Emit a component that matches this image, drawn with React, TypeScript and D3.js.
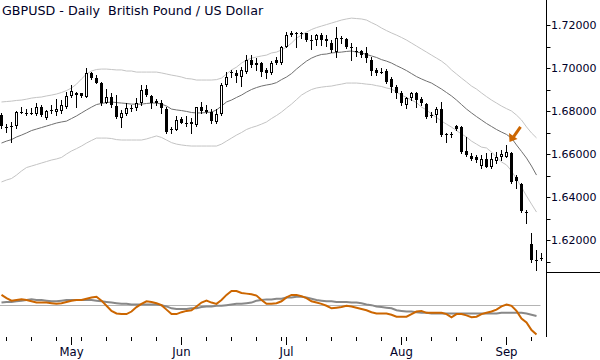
import React, { useEffect, useRef } from 'react';
import * as d3 from 'd3';

// GBPUSD daily bars, 11 Apr - 10 Sep 2014
const opens = [
  1.6781, 1.6726, 1.6726, 1.6730, 1.6797, 1.6792, 1.6791, 1.6786, 1.6820, 1.6769,
  1.6805, 1.6795, 1.6802, 1.6820, 1.6870, 1.6885, 1.6882, 1.6866, 1.6975, 1.6952,
  1.6931, 1.6839, 1.6866, 1.6823, 1.6766, 1.6784, 1.6812, 1.6812, 1.6836, 1.6901,
  1.6870, 1.6848, 1.6839, 1.6808, 1.6716, 1.6712, 1.6761, 1.6745, 1.6750, 1.6735,
  1.6817, 1.6805, 1.6797, 1.6750, 1.6784, 1.6921, 1.6983, 1.6978, 1.6957, 1.6983,
  1.7037, 1.7024, 1.7024, 1.6991, 1.6975, 1.7037, 1.7022, 1.7099, 1.7153, 1.7161,
  1.7159, 1.7161, 1.7130, 1.7130, 1.7153, 1.7137, 1.7117, 1.7076, 1.7138, 1.7133,
  1.7099, 1.7079, 1.7080, 1.7068, 1.7037, 1.6991, 1.6983, 1.6987, 1.6947, 1.6910,
  1.6885, 1.6828, 1.6859, 1.6885, 1.6854, 1.6832, 1.6781, 1.6781, 1.6808, 1.6693,
  1.6693, 1.6730, 1.6727, 1.6615, 1.6591, 1.6585, 1.6544, 1.6575, 1.6538, 1.6569,
  1.6585, 1.6587, 1.6606, 1.6494, 1.6460, 1.6332, 1.6181, 1.6107, 1.6115,
];
const highs = [
  1.6791, 1.6740, 1.6750, 1.6802, 1.6820, 1.6808, 1.6812, 1.6836, 1.6828, 1.6805,
  1.6828, 1.6856, 1.6851, 1.6890, 1.6921, 1.6890, 1.6885, 1.6998, 1.6983, 1.6967,
  1.6936, 1.6902, 1.6882, 1.6874, 1.6805, 1.6836, 1.6828, 1.6859, 1.6921, 1.6921,
  1.6874, 1.6854, 1.6851, 1.6820, 1.6727, 1.6777, 1.6771, 1.6777, 1.6766, 1.6820,
  1.6843, 1.6828, 1.6808, 1.6808, 1.6929, 1.6983, 1.6991, 1.6991, 1.7006, 1.7060,
  1.7060, 1.7045, 1.7029, 1.6998, 1.7034, 1.7050, 1.7102, 1.7169, 1.7173, 1.7169,
  1.7169, 1.7164, 1.7153, 1.7158, 1.7161, 1.7153, 1.7130, 1.7192, 1.7149, 1.7138,
  1.7115, 1.7099, 1.7084, 1.7099, 1.7052, 1.6998, 1.6998, 1.6994, 1.6957, 1.6921,
  1.6894, 1.6866, 1.6890, 1.6890, 1.6866, 1.6836, 1.6797, 1.6820, 1.6843, 1.6699,
  1.6704, 1.6735, 1.6730, 1.6680, 1.6603, 1.6595, 1.6595, 1.6603, 1.6603, 1.6611,
  1.6619, 1.6642, 1.6611, 1.6502, 1.6466, 1.6340, 1.6231, 1.6154, 1.6138,
];
const lows = [
  1.6721, 1.6702, 1.6657, 1.6721, 1.6789, 1.6781, 1.6786, 1.6781, 1.6777, 1.6761,
  1.6789, 1.6781, 1.6789, 1.6812, 1.6866, 1.6820, 1.6866, 1.6864, 1.6950, 1.6929,
  1.6828, 1.6836, 1.6820, 1.6766, 1.6727, 1.6781, 1.6802, 1.6805, 1.6828, 1.6870,
  1.6812, 1.6828, 1.6789, 1.6699, 1.6699, 1.6710, 1.6743, 1.6730, 1.6699, 1.6730,
  1.6789, 1.6789, 1.6743, 1.6743, 1.6781, 1.6916, 1.6959, 1.6936, 1.6916, 1.6978,
  1.7006, 1.6991, 1.6963, 1.6952, 1.6972, 1.7018, 1.7018, 1.7096, 1.7149, 1.7099,
  1.7138, 1.7127, 1.7087, 1.7107, 1.7107, 1.7102, 1.7076, 1.7052, 1.7115, 1.7091,
  1.7037, 1.7056, 1.7052, 1.7029, 1.6967, 1.6967, 1.6975, 1.6931, 1.6890, 1.6859,
  1.6828, 1.6812, 1.6851, 1.6820, 1.6828, 1.6766, 1.6773, 1.6750, 1.6684, 1.6657,
  1.6680, 1.6710, 1.6606, 1.6593, 1.6572, 1.6564, 1.6533, 1.6539, 1.6533, 1.6559,
  1.6572, 1.6585, 1.6466, 1.6440, 1.6332, 1.6280, 1.6099, 1.6061, 1.6107,
];
const closes = [
  1.6730, 1.6723, 1.6729, 1.6797, 1.6795, 1.6790, 1.6793, 1.6820, 1.6781, 1.6802,
  1.6803, 1.6809, 1.6828, 1.6870, 1.6893, 1.6874, 1.6870, 1.6975, 1.6952, 1.6931,
  1.6836, 1.6866, 1.6828, 1.6771, 1.6789, 1.6812, 1.6814, 1.6839, 1.6898, 1.6874,
  1.6836, 1.6836, 1.6812, 1.6704, 1.6714, 1.6758, 1.6745, 1.6743, 1.6740, 1.6817,
  1.6802, 1.6794, 1.6753, 1.6784, 1.6921, 1.6957, 1.6975, 1.6963, 1.6991, 1.7037,
  1.7014, 1.7014, 1.6983, 1.6975, 1.7022, 1.7024, 1.7099, 1.7153, 1.7164, 1.7159,
  1.7161, 1.7130, 1.7128, 1.7153, 1.7130, 1.7125, 1.7084, 1.7138, 1.7136, 1.7099,
  1.7097, 1.7077, 1.7060, 1.7045, 1.6987, 1.6975, 1.6981, 1.6936, 1.6910, 1.6882,
  1.6836, 1.6859, 1.6885, 1.6851, 1.6836, 1.6771, 1.6779, 1.6808, 1.6688, 1.6691,
  1.6691, 1.6716, 1.6611, 1.6595, 1.6575, 1.6572, 1.6575, 1.6541, 1.6575, 1.6585,
  1.6600, 1.6611, 1.6471, 1.6476, 1.6336, 1.6330, 1.6107, 1.6105, 1.6113,
];

// Bollinger bands (drawn up to the bar before the last one)
const upperBand = [
  1.6842, 1.6844, 1.6846, 1.6849, 1.6851, 1.6855, 1.6860, 1.6863, 1.6865, 1.6870,
  1.6874, 1.6879, 1.6886, 1.6895, 1.6907, 1.6925, 1.6949, 1.6972, 1.6986, 1.6993,
  1.6995, 1.6995, 1.6993, 1.6991, 1.6991, 1.6986, 1.6986, 1.6981, 1.6981, 1.6981,
  1.6981, 1.6981, 1.6977, 1.6972, 1.6967, 1.6963, 1.6958, 1.6951, 1.6949, 1.6944,
  1.6944, 1.6944, 1.6944, 1.6946, 1.6953, 1.6972, 1.6991, 1.7004, 1.7023, 1.7037,
  1.7046, 1.7051, 1.7056, 1.7060, 1.7070, 1.7074, 1.7084, 1.7097, 1.7116, 1.7139,
  1.7153, 1.7167, 1.7179, 1.7188, 1.7195, 1.7202, 1.7209, 1.7216, 1.7223, 1.7228,
  1.7232, 1.7230, 1.7228, 1.7223, 1.7211, 1.7200, 1.7186, 1.7174, 1.7163, 1.7153,
  1.7142, 1.7130, 1.7116, 1.7102, 1.7088, 1.7074, 1.7060, 1.7046, 1.7032, 1.7014,
  1.6991, 1.6972, 1.6953, 1.6935, 1.6916, 1.6902, 1.6884, 1.6867, 1.6851, 1.6837,
  1.6823, 1.6811, 1.6800, 1.6781, 1.6758, 1.6726, 1.6698, 1.6675,
];
const midBand = [
  1.6651, 1.6660, 1.6667, 1.6679, 1.6688, 1.6698, 1.6709, 1.6716, 1.6723, 1.6730,
  1.6737, 1.6744, 1.6749, 1.6753, 1.6765, 1.6777, 1.6791, 1.6805, 1.6818, 1.6830,
  1.6835, 1.6839, 1.6842, 1.6839, 1.6837, 1.6835, 1.6832, 1.6832, 1.6832, 1.6835,
  1.6837, 1.6837, 1.6832, 1.6823, 1.6809, 1.6805, 1.6802, 1.6798, 1.6793, 1.6791,
  1.6791, 1.6793, 1.6795, 1.6805, 1.6823, 1.6842, 1.6851, 1.6863, 1.6874, 1.6888,
  1.6900, 1.6909, 1.6916, 1.6921, 1.6925, 1.6932, 1.6946, 1.6958, 1.6974, 1.6995,
  1.7014, 1.7032, 1.7046, 1.7056, 1.7063, 1.7065, 1.7070, 1.7072, 1.7074, 1.7077,
  1.7079, 1.7074, 1.7070, 1.7063, 1.7056, 1.7049, 1.7039, 1.7032, 1.7023, 1.7011,
  1.7000, 1.6988, 1.6974, 1.6960, 1.6949, 1.6939, 1.6930, 1.6916, 1.6902, 1.6886,
  1.6870, 1.6851, 1.6830, 1.6809, 1.6791, 1.6774, 1.6758, 1.6742, 1.6728, 1.6714,
  1.6702, 1.6691, 1.6674, 1.6642, 1.6612, 1.6581, 1.6544, 1.6502,
];
const lowerBand = [
  1.6470, 1.6479, 1.6486, 1.6502, 1.6521, 1.6537, 1.6544, 1.6551, 1.6558, 1.6565,
  1.6572, 1.6577, 1.6584, 1.6600, 1.6614, 1.6625, 1.6637, 1.6651, 1.6663, 1.6674,
  1.6674, 1.6674, 1.6672, 1.6667, 1.6665, 1.6665, 1.6665, 1.6665, 1.6665, 1.6670,
  1.6677, 1.6684, 1.6677, 1.6665, 1.6653, 1.6646, 1.6642, 1.6639, 1.6637, 1.6637,
  1.6637, 1.6637, 1.6637, 1.6637, 1.6646, 1.6660, 1.6674, 1.6688, 1.6700, 1.6714,
  1.6723, 1.6730, 1.6739, 1.6749, 1.6765, 1.6779, 1.6795, 1.6814, 1.6832, 1.6853,
  1.6874, 1.6888, 1.6900, 1.6907, 1.6911, 1.6914, 1.6916, 1.6921, 1.6925, 1.6930,
  1.6930, 1.6930, 1.6928, 1.6925, 1.6923, 1.6918, 1.6914, 1.6907, 1.6902, 1.6888,
  1.6874, 1.6863, 1.6851, 1.6839, 1.6818, 1.6805, 1.6786, 1.6770, 1.6753, 1.6739,
  1.6725, 1.6709, 1.6693, 1.6679, 1.6660, 1.6646, 1.6632, 1.6628, 1.6609, 1.6586,
  1.6563, 1.6549, 1.6521, 1.6484, 1.6446, 1.6405, 1.6367, 1.6330,
];

// lower panel oscillator (0-100) and its slow average
const oscFast = [
  65, 60, 56, 57, 58, 57, 55, 53, 53, 53, 52, 51, 52, 54, 56, 57, 57, 59, 61, 62,
  56, 48, 40, 36, 35, 35, 39, 46, 51, 55, 54, 52, 49, 42, 35, 35, 38, 40, 41, 47,
  53, 56, 53, 51, 57, 65, 71, 71, 68, 67, 66, 64, 57, 51, 51, 52, 55, 61, 65, 65,
  63, 60, 55, 53, 51, 48, 44, 45, 46, 48, 47, 45, 43, 41, 38, 36, 36, 36, 34, 31,
  31, 31, 35, 39, 40, 37, 37, 37, 37, 35, 30, 35, 35, 33, 30, 31, 35, 37, 39, 42,
  47, 50, 48, 40, 28, 22, 10, 3,
];
const oscSlow = [
  53, 54, 54, 55, 56, 57, 58, 57, 57, 56, 55, 55, 56, 57, 57, 57, 57, 57, 57, 56,
  55, 54, 53, 52, 51, 51, 50, 50, 50, 50, 50, 50, 49, 47, 44, 43, 43, 43, 44, 44,
  46, 47, 47, 48, 48, 49, 50, 51, 51, 52, 53, 56, 57, 58, 58, 59, 59, 61, 61, 62,
  62, 61, 59, 57, 56, 55, 55, 54, 54, 54, 53, 53, 52, 50, 49, 47, 46, 45, 44, 41,
  40, 39, 39, 38, 37, 37, 36, 36, 36, 36, 36, 36, 36, 36, 36, 36, 36, 36, 36, 36,
  37, 37, 37, 37, 37, 36, 34, 32,
];
const oscLevel = 50;

const priceTicks = [1.62, 1.64, 1.66, 1.68, 1.70, 1.72];
const minorPriceTicks = [1.61, 1.63, 1.65, 1.67, 1.69, 1.71];
const monthLabels = ['May', 'Jun', 'Jul', 'Aug', 'Sep'];
const monthStartBars = [14, 36, 57, 80, 101];
const weekStartBars = [1, 6, 11, 16, 21, 26, 31, 36, 41, 46, 51, 56, 61, 66, 71, 76, 81, 86, 91, 96, 101, 106];
const signalBar = 101;

const App = () => {
  const svgRef = useRef<SVGSVGElement>(null);

  useEffect(() => {
    const svg = d3.select(svgRef.current);
    svg.selectAll('*').remove();

    const width = 600;
    const axisX = 546.5;
    const panelBottom = 337;
    const ink = '#000028';
    const font = "'DejaVu Sans', Verdana, sans-serif";

    const x = d3.scaleLinear().domain([0, 108]).range([1.5, 541.5]);
    const y = d3.scaleLinear().domain([1.61, 1.72]).range([261.5, 25]);
    const yOsc = d3.scaleLinear().domain([0, 100]).range([336.5, 272.5]);

    svg.append('rect').attr('width', width).attr('height', 360).attr('fill', '#fff');

    // Bollinger bands
    const bandLine = d3.line<number>().x((_, i) => x(i)).y(d => y(d));
    [
      { data: upperBand, color: '#c4c4c4' },
      { data: lowerBand, color: '#c4c4c4' },
      { data: midBand, color: '#707070' },
    ].forEach(b => {
      svg.append('path')
        .attr('d', bandLine(b.data))
        .attr('fill', 'none')
        .attr('stroke', b.color)
        .attr('stroke-width', 1);
    });

    // candles
    const bars = d3.range(opens.length);
    const g = svg.append('g');
    g.selectAll('line.wick')
      .data(bars)
      .join('line')
      .attr('class', 'wick')
      .attr('x1', i => x(i))
      .attr('x2', i => x(i))
      .attr('y1', i => Math.round(y(highs[i])))
      .attr('y2', i => Math.round(y(lows[i])) + 1)
      .attr('stroke', '#000')
      .attr('stroke-width', 1);

    bars.forEach(i => {
      const top = Math.round(y(Math.max(opens[i], closes[i])));
      const bot = Math.round(y(Math.min(opens[i], closes[i])));
      const up = closes[i] > opens[i];
      if (bot - top < 2) {
        // doji: just a small cross bar
        g.append('rect')
          .attr('x', x(i) - 1.5).attr('y', top)
          .attr('width', 3).attr('height', Math.max(1, bot - top))
          .attr('fill', '#000');
      } else if (up) {
        g.append('rect')
          .attr('x', x(i) - 1).attr('y', top + 0.5)
          .attr('width', 2).attr('height', bot - top - 1)
          .attr('fill', '#fff').attr('stroke', '#000').attr('stroke-width', 1);
      } else {
        g.append('rect')
          .attr('x', x(i) - 1.5).attr('y', top)
          .attr('width', 3).attr('height', bot - top)
          .attr('fill', '#000');
      }
    });

    // arrow over the signal bar
    const tipX = x(signalBar) + 3;
    const tipY = y(highs[signalBar]) - 3;
    const orange = '#cc6600';
    svg.append('line')
      .attr('x1', tipX + 11).attr('y1', tipY - 15)
      .attr('x2', tipX + 4).attr('y2', tipY - 5)
      .attr('stroke', orange).attr('stroke-width', 3);
    svg.append('path')
      .attr('d', `M${tipX},${tipY} L${tipX - 0.5},${tipY - 9} L${tipX + 8},${tipY - 3} Z`)
      .attr('fill', orange);

    // oscillator panel
    svg.append('line')
      .attr('x1', 0).attr('x2', x(107) + 4)
      .attr('y1', Math.round(yOsc(oscLevel)) + 0.5).attr('y2', Math.round(yOsc(oscLevel)) + 0.5)
      .attr('stroke', '#b4b4b4').attr('stroke-width', 1);
    const oscLine = d3.line<number>().x((_, i) => x(i)).y(d => yOsc(d));
    svg.append('path')
      .attr('d', oscLine(oscSlow))
      .attr('fill', 'none').attr('stroke', '#888').attr('stroke-width', 2);
    svg.append('path')
      .attr('d', oscLine(oscFast))
      .attr('fill', 'none').attr('stroke', orange).attr('stroke-width', 2);

    // right price axis
    svg.append('line')
      .attr('x1', axisX).attr('x2', axisX).attr('y1', 0).attr('y2', panelBottom)
      .attr('stroke', '#000');
    svg.append('line')
      .attr('x1', axisX).attr('x2', width).attr('y1', 272.5).attr('y2', 272.5)
      .attr('stroke', '#000');
    [...priceTicks, ...minorPriceTicks].forEach(t => {
      const ty = Math.round(y(t)) + 0.5;
      svg.append('line')
        .attr('x1', axisX).attr('x2', axisX + 4).attr('y1', ty).attr('y2', ty)
        .attr('stroke', '#000');
    });
    svg.append('g')
      .selectAll('text')
      .data(priceTicks)
      .join('text')
      .attr('x', 551)
      .attr('y', d => y(d) + 4)
      .attr('fill', ink)
      .style('font-family', font)
      .style('font-size', '11px')
      .text(d => d.toFixed(5));

    // time axis
    weekStartBars.forEach(b => {
      svg.append('line')
        .attr('x1', x(b)).attr('x2', x(b)).attr('y1', panelBottom).attr('y2', panelBottom + 4)
        .attr('stroke', '#000');
    });
    monthStartBars.forEach((b, k) => {
      svg.append('line')
        .attr('x1', x(b)).attr('x2', x(b)).attr('y1', panelBottom).attr('y2', panelBottom + 8)
        .attr('stroke', '#000');
      svg.append('text')
        .attr('x', x(b))
        .attr('y', 356)
        .attr('text-anchor', 'middle')
        .attr('fill', ink)
        .style('font-family', font)
        .style('font-size', '11.7px')
        .text(monthLabels[k]);
    });

    // title
    svg.append('text')
      .attr('x', 2)
      .attr('y', 15)
      .attr('fill', ink)
      .style('font-family', font)
      .style('font-size', '12.7px')
      .style('white-space', 'pre')
      .text('GBPUSD - Daily  British Pound / US Dollar');
  }, []);

  return (
    <svg
      ref={svgRef}
      width="600"
      height="360"
      style={{ position: 'absolute', left: 0, top: 0 }}
    ></svg>
  );
};

export default App;
